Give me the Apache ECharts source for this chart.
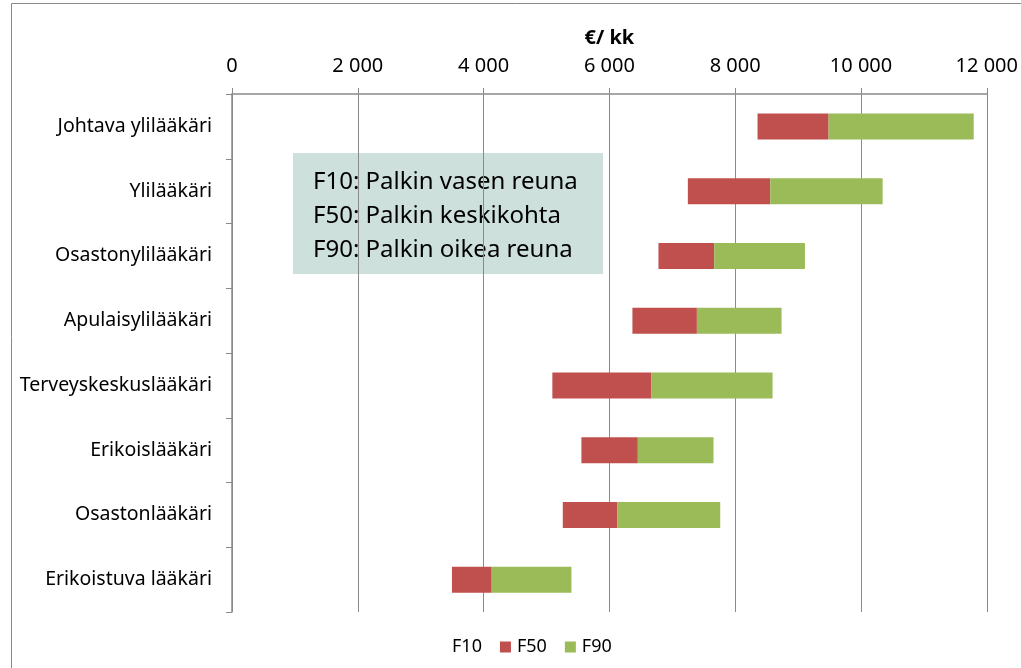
<!DOCTYPE html>
<html>
<head>
<meta charset="utf-8">
<script src="https://cdn.jsdelivr.net/npm/echarts@6/dist/echarts.min.js"></script>
<style>
  html, body { margin: 0; padding: 0; background: #fff; }
  #chart { width: 1021px; height: 668px; }
</style>
</head>
<body>
<div id="chart"></div>
<script>
const categories = ['Johtava ylilääkäri', 'Ylilääkäri', 'Osastonylilääkäri', 'Apulaisylilääkäri',
  'Terveyskeskuslääkäri', 'Erikoislääkäri', 'Osastonlääkäri', 'Erikoistuva lääkäri']
const f10 = [8355, 7247, 6780, 6366, 5093, 5555, 5259, 3497]
const f50 = [9485, 8557, 7666, 7391, 6664, 6452, 6123, 4129]
const f90 = [11792, 10344, 9109, 8737, 8594, 7655, 7762, 5396]
const xTicks = { min: 0, max: 12000, interval: 2000 }

const font = '"Noto Sans", "Open Sans", sans-serif'
const gray = '#8a8a8a'

// stacked pieces: invisible F10 base, then F10->F50 and F50->F90
const lowPart = f50.map((v, i) => v - f10[i])
const highPart = f90.map((v, i) => v - f50[i])

const chart = echarts.init(document.getElementById('chart'))
chart.setOption({
  animation: false,
  textStyle: { fontFamily: font, color: '#000' },
  grid: { left: 232, right: 34, top: 94, bottom: 56 },
  legend: {
    top: 633,
    left: 430,
    icon: 'rect',
    itemWidth: 11,
    itemHeight: 11,
    itemGap: 18,
    selectedMode: false,
    textStyle: { fontFamily: font, fontSize: 18, color: '#000', padding: [0, 0, 0, 1] },
    data: ['F10', 'F50', 'F90']
  },
  xAxis: {
    type: 'value',
    position: 'top',
    min: xTicks.min,
    max: xTicks.max,
    interval: xTicks.interval,
    name: '€/ kk',
    nameLocation: 'middle',
    nameGap: 46,
    nameTextStyle: { fontFamily: font, fontSize: 20, fontWeight: 'bold', color: '#000' },
    axisLine: { show: true, lineStyle: { color: gray, width: 1.5 } },
    axisTick: { show: true, length: 6, lineStyle: { color: gray } },
    axisLabel: {
      fontSize: 20, color: '#000', margin: 18,
      formatter: v => String(v).replace(/\B(?=(\d{3})+(?!\d))/g, ' ')
    },
    splitLine: { show: true, lineStyle: { color: gray, width: 1 } }
  },
  yAxis: {
    type: 'category',
    inverse: true,
    data: categories,
    axisLine: { show: true, lineStyle: { color: gray, width: 1.5 } },
    axisTick: { show: true, length: 6, lineStyle: { color: gray } },
    axisLabel: { fontSize: 19.5, color: '#000', margin: 20 }
  },
  series: [
    { name: 'F10', type: 'bar', stack: 'f', barWidth: 26, data: f10,
      itemStyle: { color: 'transparent' }, emphasis: { disabled: true } },
    { name: 'F50', type: 'bar', stack: 'f', barWidth: 26, data: lowPart,
      itemStyle: { color: '#c0504d' } },
    { name: 'F90', type: 'bar', stack: 'f', barWidth: 26, data: highPart,
      itemStyle: { color: '#9bbb59' } }
  ],
  graphic: [
    { type: 'rect', z: -10, silent: true,
      shape: { x: 11.5, y: 3.5, width: 1200, height: 1000 },
      style: { fill: 'none', stroke: gray, lineWidth: 1 } },
    { type: 'rect', z: -10, silent: true,
      shape: { x: 293, y: 153, width: 310, height: 121 },
      style: { fill: '#cde0db' } },
    { type: 'text', z: -9, silent: true, left: 313, top: 165,
      style: {
        text: 'F10: Palkin vasen reuna\nF50: Palkin keskikohta\nF90: Palkin oikea reuna',
        font: '24px ' + font, fill: '#000', lineHeight: 34
      } }
  ]
})
</script>
</body>
</html>
